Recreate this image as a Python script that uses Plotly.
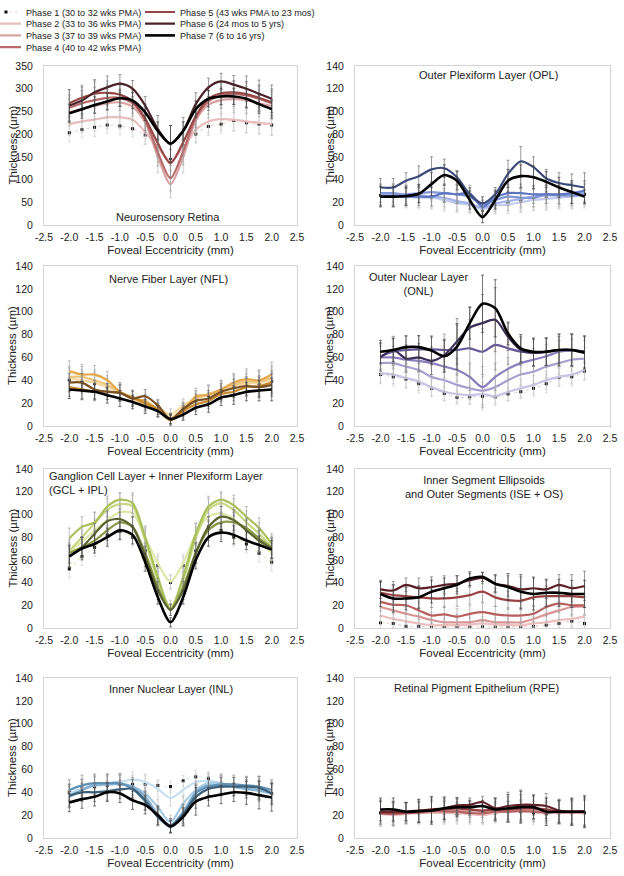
import plotly.graph_objects as go

# ---------------- data ----------------
eccentricity = [-2.0, -1.75, -1.5, -1.25, -1.0, -0.75, -0.5, -0.25, 0.0,
                0.25, 0.5, 0.75, 1.0, 1.25, 1.5, 1.75, 2.0]

phase_names = ["Phase 1 (30 to 32 wks PMA)", "Phase 2 (33 to 36 wks PMA)",
               "Phase 3 (37 to 39 wks PMA)", "Phase 4 (40 to 42 wks PMA)",
               "Phase 5 (43 wks PMA to 23 mos)", "Phase 6 (24 mos to 5 yrs)",
               "Phase 7 (6 to 16 yrs)"]

x_tick_vals = [-2.5, -2.0, -1.5, -1.0, -0.5, 0.0, 0.5, 1.0, 1.5, 2.0, 2.5]
x_tick_text = ["-2.5", "-2.0", "-1.5", "-1.0", "-0.5", "0.0", "0.5", "1.0", "1.5", "2.0", "2.5"]
retina_y_ticks = [0, 50, 100, 150, 200, 250, 300, 350]
layer_y_ticks = [0, 20, 40, 60, 80, 100, 120, 140]

# Neurosensory retina (phases 1..7)
retina_mean = [
    [203, 210, 215, 220, 218, 212, 198, 175, 144, 175, 200, 217, 222, 230, 225, 222, 220],
    [222, 228, 232, 237, 237, 232, 205, 170, 140, 170, 210, 228, 233, 232, 228, 225, 222],
    [248, 256, 262, 268, 270, 260, 225, 150, 90, 150, 230, 265, 275, 277, 275, 268, 262],
    [258, 268, 275, 280, 280, 268, 232, 160, 103, 162, 236, 272, 285, 288, 285, 278, 268],
    [268, 280, 289, 291, 287, 272, 234, 180, 136, 182, 240, 278, 290, 292, 288, 280, 270],
    [263, 274, 292, 303, 311, 300, 263, 211, 179, 207, 266, 303, 316, 309, 300, 289, 278],
    [246, 255, 264, 272, 279, 274, 248, 207, 179, 207, 255, 278, 283, 283, 278, 266, 255],
]
retina_sd = [
    [20, 18, 20, 18, 20, 18, 20, 22, 25, 22, 20, 20, 20, 22, 22, 22, 22],
    [25, 25, 25, 25, 25, 25, 28, 32, 35, 32, 28, 25, 25, 25, 25, 25, 25],
    [30, 30, 30, 30, 30, 30, 30, 35, 30, 35, 30, 30, 30, 30, 30, 30, 30],
    [28, 28, 28, 28, 28, 28, 28, 30, 28, 30, 28, 28, 28, 28, 28, 28, 28],
    [30, 28, 28, 26, 26, 26, 26, 30, 30, 30, 26, 26, 26, 26, 28, 28, 30],
    [35, 30, 28, 25, 20, 18, 20, 30, 40, 30, 25, 20, 18, 20, 28, 30, 30],
    [20, 20, 18, 18, 18, 18, 18, 20, 40, 20, 18, 18, 18, 18, 20, 20, 20],
]

# Outer plexiform layer
opl_mean = [
    [26, 26, 25, 25, 24, 22, 20, 18, 14, 18, 20, 22, 23, 24, 25, 26, 27],
    [26, 25, 25, 24, 24, 22, 19, 18, 14, 17, 18, 20, 22, 23, 24, 25, 26],
    [27, 27, 26, 26, 25, 24, 21, 19, 15, 19, 21, 23, 25, 26, 26, 27, 28],
    [28, 28, 27, 28, 29, 28, 27, 25, 18, 22, 25, 24, 24, 27, 26, 26, 27],
    [25, 25, 25, 25, 25, 28, 27, 28, 16, 24, 28, 28, 27, 27, 27, 28, 30],
    [33, 33, 39, 43, 49, 50, 42, 27, 19, 27, 45, 56, 51, 41, 37, 35, 33],
    [25, 25, 25.5, 27.5, 36, 44, 39, 22, 7, 22, 39, 43, 42, 38, 33, 29, 25],
]
opl_sd = [
    [10, 10, 10, 10, 10, 10, 8, 8, 8, 8, 8, 10, 10, 10, 10, 12, 12],
    [9, 9, 9, 9, 9, 8, 8, 7, 6, 7, 8, 9, 9, 10, 10, 10, 10],
    [9, 9, 9, 9, 9, 8, 8, 7, 6, 7, 8, 9, 9, 10, 10, 10, 10],
    [8, 8, 8, 8, 8, 8, 8, 7, 6, 7, 8, 8, 8, 8, 8, 9, 9],
    [8, 8, 8, 8, 8, 8, 8, 7, 6, 7, 8, 8, 8, 8, 8, 9, 9],
    [8, 8, 7, 9, 11, 8, 6, 6, 6, 6, 12, 13, 9, 8, 9, 10, 13],
    [9, 9, 8, 8, 10, 9, 8, 8, 5, 8, 10, 10, 10, 9, 9, 10, 6],
]

# Nerve fiber layer
nfl_mean = [
    [40, 39, 37, 34, 30, 25, 20, 16, 10, 17, 23, 27, 30, 34, 36, 37, 39],
    [42, 40, 38, 34, 30, 24, 20, 16, 10, 18, 24, 28, 31, 35, 37, 38, 40],
    [43, 43, 40, 36, 30, 24, 19, 14, 7, 15, 24, 28, 32, 36, 39, 39, 42],
    [48, 45, 45, 40, 30, 24, 22, 14, 5, 12, 26, 27, 32, 38, 41, 40, 45],
    [34, 32, 30, 30, 29, 25, 20, 15, 5, 13, 19, 22, 28, 30, 34, 35, 38],
    [38, 38, 32, 30, 29, 24, 26, 18, 6, 15, 22, 24, 30, 33, 35, 34, 36],
    [32, 31, 30, 27, 24, 21, 17, 13, 6, 10, 16, 19, 25, 27, 30, 31, 32],
]
nfl_sd = [
    [10, 10, 10, 8, 8, 7, 7, 6, 5, 6, 7, 8, 8, 9, 9, 10, 10],
    [9, 9, 9, 8, 8, 7, 6, 6, 5, 6, 7, 8, 8, 9, 9, 10, 11],
    [9, 9, 9, 8, 8, 7, 6, 6, 5, 6, 7, 8, 8, 9, 9, 10, 11],
    [9, 9, 8, 8, 8, 7, 6, 6, 5, 6, 7, 8, 8, 8, 9, 9, 11],
    [8, 8, 8, 7, 7, 6, 6, 5, 5, 5, 6, 7, 7, 8, 8, 9, 10],
    [8, 8, 8, 7, 7, 6, 6, 5, 5, 5, 6, 7, 7, 8, 8, 9, 10],
    [8, 8, 7, 7, 7, 6, 6, 5, 4, 5, 6, 7, 7, 8, 8, 9, 10],
]

# Outer nuclear layer
onl_mean = [
    [45, 43, 41, 37, 33, 28.5, 25, 25.5, 26, 25.5, 28, 30, 33, 37, 42.5, 43, 48],
    [46, 45, 42, 39, 34, 30, 28, 27, 28, 26, 30, 33, 36, 40, 43, 45, 49],
    [55, 55, 52, 49, 43, 40, 36, 33, 31, 34, 40, 45, 47.5, 52, 55, 58, 59],
    [60, 60, 58, 57, 55, 52, 49, 43, 34, 43, 50, 55, 58, 61, 65, 66, 65],
    [61, 65, 66.5, 67, 67, 66.5, 66.5, 68, 65, 71, 68, 65, 64, 65, 66.5, 66.5, 65],
    [60, 66.5, 59, 60, 57, 62, 74, 86, 90, 93, 78, 66.5, 64, 65, 66.5, 66.5, 65],
    [65, 66.5, 69, 69, 66, 61, 69.5, 90, 107, 103, 81, 68, 65, 65, 66.5, 66.5, 64],
]
onl_sd = [
    [8, 8, 8, 8, 7, 6, 6, 6, 12, 6, 6, 6, 7, 8, 8, 8, 8],
    [8, 8, 8, 8, 8, 8, 8, 8, 10, 8, 8, 8, 8, 8, 8, 8, 8],
    [10, 10, 10, 10, 10, 10, 10, 10, 12, 10, 10, 10, 10, 10, 10, 10, 10],
    [10, 10, 10, 10, 10, 10, 10, 12, 18, 12, 10, 10, 10, 10, 10, 10, 10],
    [12, 12, 12, 12, 12, 14, 22, 25, 20, 22, 14, 12, 12, 12, 14, 14, 14],
    [12, 12, 12, 12, 12, 14, 20, 18, 25, 28, 12, 12, 12, 12, 12, 14, 14],
    [10, 10, 10, 10, 12, 14, 20, 14, 25, 25, 10, 12, 12, 12, 14, 14, 14],
]

# Ganglion cell layer + inner plexiform layer
gcl_mean = [
    [52, 63, 71, 82, 85, 80, 68, 55, 40, 55, 68, 89, 86, 80, 74, 66, 58],
    [67, 76, 86, 95, 102, 101, 80, 57, 41, 57, 83, 98, 101, 96, 86, 76, 66],
    [68, 80, 92, 104, 109, 107, 77, 42, 18.5, 42, 79, 104, 110, 104, 93, 83, 71],
    [79, 89, 93, 107, 113, 110, 80, 45, 16, 45, 83, 107, 113, 108, 98, 88, 74],
    [66, 71, 77, 86, 93, 89, 66, 36, 16, 36, 66, 86, 93, 93, 88, 79, 71],
    [63, 71, 83, 94, 96, 89, 63, 33, 16, 33, 66, 89, 98, 95, 86, 77, 70],
    [63, 70, 74, 80, 86, 82, 58, 27, 5, 27, 60, 80, 84, 82, 77, 73, 69],
]
gcl_sd = [
    [8, 8, 8, 8, 8, 8, 8, 8, 6, 8, 8, 8, 8, 8, 8, 8, 8],
    [10, 10, 10, 10, 10, 10, 10, 8, 6, 8, 10, 10, 10, 10, 10, 10, 10],
    [10, 10, 10, 10, 10, 10, 10, 8, 6, 8, 10, 10, 10, 10, 10, 10, 10],
    [9, 9, 9, 9, 6, 9, 9, 8, 5, 8, 9, 9, 6, 9, 9, 9, 9],
    [9, 9, 9, 9, 9, 9, 9, 8, 5, 8, 9, 9, 9, 9, 9, 9, 9],
    [9, 9, 9, 9, 9, 9, 9, 8, 5, 8, 9, 9, 9, 9, 9, 9, 9],
    [10, 10, 8, 8, 8, 8, 8, 6, 4, 6, 8, 8, 8, 8, 8, 8, 8],
]

# Inner segment ellipsoids + outer segments
ise_mean = [
    [4.5, 4, 1.5, 1.5, 1, 1, 1, 1, 1, 1, 1, 1, 1.5, 2.5, 4, 6, 4],
    [11, 8, 6, 4, 2.5, 2.5, 2.5, 3, 4, 3, 2.5, 2.5, 4, 5, 7, 8, 10],
    [18.5, 15.5, 12.5, 10, 7, 5, 5, 5, 7, 5, 5, 5, 8, 12, 15.5, 18.5, 19],
    [23, 20.5, 20, 15.5, 11, 12, 10, 12.5, 14, 12, 11, 11, 12.5, 18.5, 21.5, 20, 20],
    [31, 29, 28, 27, 26, 26, 27, 29, 32, 27, 24.5, 24, 27, 28, 28, 28, 27],
    [34, 33, 38, 35, 36, 38, 39, 42, 44, 39, 37, 34, 35, 34, 38, 35, 37],
    [30, 26, 26, 27, 32, 35, 38, 43.5, 45, 39, 36, 32, 30, 31, 31, 30, 30],
]
ise_sd = [
    [5, 5, 4, 4, 4, 4, 4, 4, 4, 4, 4, 4, 4, 4, 4, 5, 5],
    [8, 8, 8, 7, 6, 6, 6, 6, 6, 6, 6, 6, 6, 7, 8, 8, 8],
    [8, 8, 8, 7, 7, 7, 7, 7, 7, 7, 7, 7, 7, 8, 8, 8, 8],
    [8, 8, 8, 8, 7, 7, 7, 7, 8, 7, 7, 7, 7, 8, 8, 8, 8],
    [9, 9, 9, 9, 8, 8, 8, 8, 9, 8, 8, 8, 8, 9, 9, 9, 9],
    [8, 8, 6, 9, 9, 8, 7, 6, 5, 7, 9, 11, 10, 8, 9, 12, 13],
    [11, 12, 10, 10, 10, 9, 8, 6, 4, 8, 12, 15, 14, 12, 12, 12, 12],
]

# Inner nuclear layer
inl_mean = [
    [40, 44, 45, 46, 47, 47, 47, 46, 45, 50, 53.5, 52, 48, 46, 43, 42, 39],
    [39, 43, 46, 48, 49, 51, 49, 43, 35, 42, 49, 50, 48, 45, 43, 42, 39],
    [37.5, 42.5, 47, 48, 48, 45, 39, 27, 14, 30, 42, 48, 48, 45, 43, 41, 39],
    [36, 42, 46, 47, 47, 45, 36, 21, 11, 23, 40, 46, 45, 45, 43, 42, 39],
    [42, 46, 48, 48, 48, 43, 32, 18.5, 10, 18.5, 39, 45, 47, 47, 46, 45, 42],
    [37, 40, 40, 41, 42.5, 43, 33, 18.5, 11, 21, 36, 43, 45, 45, 45, 44, 39],
    [31, 34, 36, 40, 39, 33, 29, 20, 10, 18.5, 32, 36, 38, 40, 39.5, 37.5, 35.5],
]
inl_sd = [
    [8, 8, 8, 8, 8, 8, 8, 5, 5, 5, 6, 6, 6, 7, 8, 8, 8],
    [8, 8, 8, 8, 8, 7, 7, 7, 7, 7, 7, 7, 8, 8, 8, 8, 8],
    [9, 9, 8, 8, 8, 8, 8, 7, 6, 7, 8, 8, 8, 8, 8, 9, 9],
    [9, 9, 8, 8, 8, 8, 8, 7, 6, 7, 8, 8, 8, 8, 8, 9, 9],
    [9, 9, 8, 8, 8, 8, 8, 7, 6, 7, 8, 8, 8, 8, 8, 9, 9],
    [10, 8, 8, 8, 8, 8, 8, 8, 6, 8, 10, 10, 8, 8, 8, 10, 10],
    [8, 8, 8, 8, 8, 8, 8, 8, 5, 8, 12, 8, 8, 8, 10, 12, 12],
]

# Retinal pigment epithelium
rpe_mean = [
    [22, 21, 22, 22, 23, 22, 21, 21, 22, 22, 23, 23, 22, 21, 22, 22, 22],
    [21, 20, 21, 22, 22, 22, 22, 21, 20, 22, 23, 24, 24, 23, 22, 22, 22],
    [22, 21, 22, 22, 23, 23, 24, 24, 24, 24, 24, 25, 25, 24, 22, 22, 22],
    [21.5, 21, 22, 22.5, 24, 23.5, 23, 22, 21.5, 23, 23, 23.5, 23, 22, 23, 23, 23],
    [22, 22, 22, 23, 24, 25, 26, 25, 24, 25, 25, 26, 26, 25, 23, 23, 23],
    [23, 23, 23, 24, 25, 26, 28.5, 29, 31.5, 26, 28, 29, 29, 28, 24, 23, 23],
    [25, 25, 23, 23.5, 24, 26, 27, 27, 28, 25, 26, 27, 27, 23, 23, 23, 23],
]
rpe_sd = [
    [12, 11, 10, 10, 10, 10, 9, 9, 9, 9, 9, 10, 10, 10, 10, 11, 12],
    [11, 10, 9, 9, 9, 9, 9, 8, 8, 8, 9, 9, 9, 9, 10, 10, 11],
    [10, 10, 9, 9, 9, 9, 8, 8, 8, 8, 9, 9, 9, 9, 10, 10, 11],
    [10, 10, 9, 9, 9, 9, 8, 8, 8, 8, 9, 9, 9, 9, 10, 10, 11],
    [10, 10, 9, 9, 10, 9, 8, 7, 6, 9, 11, 12, 10, 10, 10, 11, 12],
    [10, 9, 8, 10, 11, 9, 7, 6, 5, 9, 12, 13, 9, 11, 10, 11, 13],
    [10, 10, 8, 10, 12, 10, 8, 6, 5, 10, 12, 14, 10, 12, 10, 12, 14],
]

# ---------------- styling ----------------
FONT = "Liberation Sans, Arial, Helvetica, sans-serif"
TEXT = "#222222"
FRAME = "#d4d4d4"

red_palette = ["#eed4d4", "#e8bdbd", "#d9a2a2", "#b86a6a", "#964848", "#4a2229", "#000000"]
blue_palette = ["#d8def4", "#c2ccee", "#a2b2e4", "#8096d6", "#5e76c2", "#3c4a7a", "#000000"]
gold_palette = ["#f6e4bc", "#f3d8a2", "#efc57c", "#e4a84c", "#c8892e", "#7a5222", "#000000"]
purple_palette = ["#ddd8ee", "#c9c2e2", "#aaa0d0", "#8a7ebc", "#66589a", "#3c2e58", "#000000"]
green_palette = ["#e9efc4", "#dfe8a8", "#c8d882", "#a9c05a", "#8a9a48", "#5a6232", "#000000"]
ise_palette = ["#f0d2d2", "#ecbebe", "#d99494", "#b85e5e", "#9a4242", "#5a2026", "#000000"]
steel_palette = ["#e0eef8", "#c6e0f1", "#a5cbe5", "#84aed0", "#6090b4", "#3e5f78", "#000000"]
rpe_palette = ["#f0d2d2", "#e8baba", "#d49494", "#b46262", "#964444", "#66222a", "#000000"]

err_colors = ["#cfcfcf", "#c8c8c8", "#b8b8b8", "#a4a4a4", "#8c8c8c", "#707070", "#3c3c3c"]
line_widths = [1.2, 2.2, 2.2, 2.2, 2.2, 2.2, 2.6]

panels = [
    dict(mean=retina_mean, sd=retina_sd, pal=red_palette, ticks=retina_y_ticks,
         title="Neurosensory Retina", tx=-0.05, ty=18, align="center", xanchor="center"),
    dict(mean=opl_mean, sd=opl_sd, pal=blue_palette, ticks=layer_y_ticks,
         title="Outer Plexiform Layer (OPL)", tx=0.12, ty=132, align="center", xanchor="center"),
    dict(mean=nfl_mean, sd=nfl_sd, pal=gold_palette, ticks=layer_y_ticks,
         title="Nerve Fiber Layer (NFL)", tx=-0.03, ty=129, align="center", xanchor="center"),
    dict(mean=onl_mean, sd=onl_sd, pal=purple_palette, ticks=layer_y_ticks,
         title="Outer Nuclear Layer<br>(ONL)", tx=-1.25, ty=124, align="center", xanchor="center"),
    dict(mean=gcl_mean, sd=gcl_sd, pal=green_palette, ticks=layer_y_ticks,
         title="Ganglion Cell Layer + Inner Plexiform Layer<br>(GCL + IPL)", tx=-2.45, ty=127.5,
         align="left", xanchor="left"),
    dict(mean=ise_mean, sd=ise_sd, pal=ise_palette, ticks=layer_y_ticks,
         title="Inner Segment Ellipsoids<br>and Outer Segments (ISE + OS)", tx=0.03, ty=124,
         align="center", xanchor="center"),
    dict(mean=inl_mean, sd=inl_sd, pal=steel_palette, ticks=layer_y_ticks,
         title="Inner Nuclear Layer (INL)", tx=0.0, ty=130, align="center", xanchor="center"),
    dict(mean=rpe_mean, sd=rpe_sd, pal=rpe_palette, ticks=layer_y_ticks,
         title="Retinal Pigment Epithelium (RPE)", tx=-0.12, ty=131, align="center", xanchor="center"),
]

W, H = 624, 876
col_px = [(44, 297), (355, 610)]
row_px = [(66, 225), (266, 426), (469, 628), (678, 838)]
ytitle_shift = [-32, -26]

fig = go.Figure()
layout = dict(
    width=W, height=H,
    margin=dict(l=0, r=0, t=0, b=0, autoexpand=False),
    paper_bgcolor="white", plot_bgcolor="white",
    font=dict(family=FONT, color=TEXT, size=10.5),
    annotations=[],
)

for i, p in enumerate(panels):
    r, c = divmod(i, 2)
    suffix = "" if i == 0 else str(i + 1)
    xa, ya = "x" + suffix, "y" + suffix
    for k in range(7):
        dotted = (k == 0)
        fig.add_trace(go.Scatter(
            x=eccentricity, y=p["mean"][k],
            xaxis=xa, yaxis=ya,
            name=phase_names[k],
            mode="lines+markers" if dotted else "lines",
            line=dict(color=p["pal"][k], width=line_widths[k], shape="spline", smoothing=0.8,
                      dash="dot" if dotted else "solid"),
            marker=dict(symbol="square", size=3, color="#111111") if dotted else None,
            error_y=dict(type="data", array=p["sd"][k], color=err_colors[k], thickness=0.7, width=1.5),
            showlegend=(i == 0),
            legend="legend" if k == 0 else "legend%d" % (k + 1),
            hoverinfo="skip",
        ))
    x0, x1 = col_px[c]
    y0, y1 = row_px[r]
    ymax = p["ticks"][-1]
    layout["xaxis" + suffix] = dict(
        domain=[x0 / W, x1 / W], anchor=ya, range=[-2.5, 2.5],
        tickmode="array", tickvals=x_tick_vals, ticktext=x_tick_text, tickangle=0,
        showline=True, mirror=True, linecolor=FRAME, linewidth=1,
        showgrid=False, zeroline=False, ticks="", ticklabelstandoff=2,
        tickfont=dict(size=10.5, color=TEXT), automargin=False,
        title=dict(text="Foveal Eccentricity (mm)", font=dict(size=11.5, color=TEXT), standoff=4),
    )
    layout["yaxis" + suffix] = dict(
        domain=[1 - y1 / H, 1 - y0 / H], anchor=xa, range=[0, ymax],
        tickmode="array", tickvals=p["ticks"],
        showline=True, mirror=True, linecolor=FRAME, linewidth=1,
        showgrid=False, zeroline=False, ticks="", ticklabelstandoff=8,
        tickfont=dict(size=10.5, color=TEXT), automargin=False,
    )
    # y-axis title (placed as rotated text beside the axis)
    layout["annotations"].append(dict(
        text="Thickness (µm)", x=0, y=0.5, xref=xa + " domain", yref=ya + " domain",
        xanchor="center", yanchor="middle", textangle=-90, xshift=ytitle_shift[c],
        showarrow=False, font=dict(size=11.5, color=TEXT, family=FONT),
    ))
    # panel title
    layout["annotations"].append(dict(
        text=p["title"], x=p["tx"], y=p["ty"], xref=xa, yref=ya,
        xanchor=p["xanchor"], yanchor="middle", align=p["align"], showarrow=False,
        font=dict(size=11, color=TEXT, family=FONT),
    ))

# legends: one per phase, arranged in two columns
for k in range(7):
    key = "legend" if k == 0 else "legend%d" % (k + 1)
    col = 0 if k < 4 else 1
    row = k if k < 4 else k - 4
    lx = -14 if col == 0 else 140
    ly = 12 + row * 11.7
    layout[key] = dict(
        xref="paper", yref="paper", x=lx / W, y=1 - ly / H,
        xanchor="left", yanchor="middle", bgcolor="rgba(0,0,0,0)", borderwidth=0,
        font=dict(size=9.1, color=TEXT, family=FONT), itemwidth=30,
    )

fig.update_layout(**layout)
fig.write_html("out.html", config={"displayModeBar": False},
               post_script="document.body.style.margin='0';")
